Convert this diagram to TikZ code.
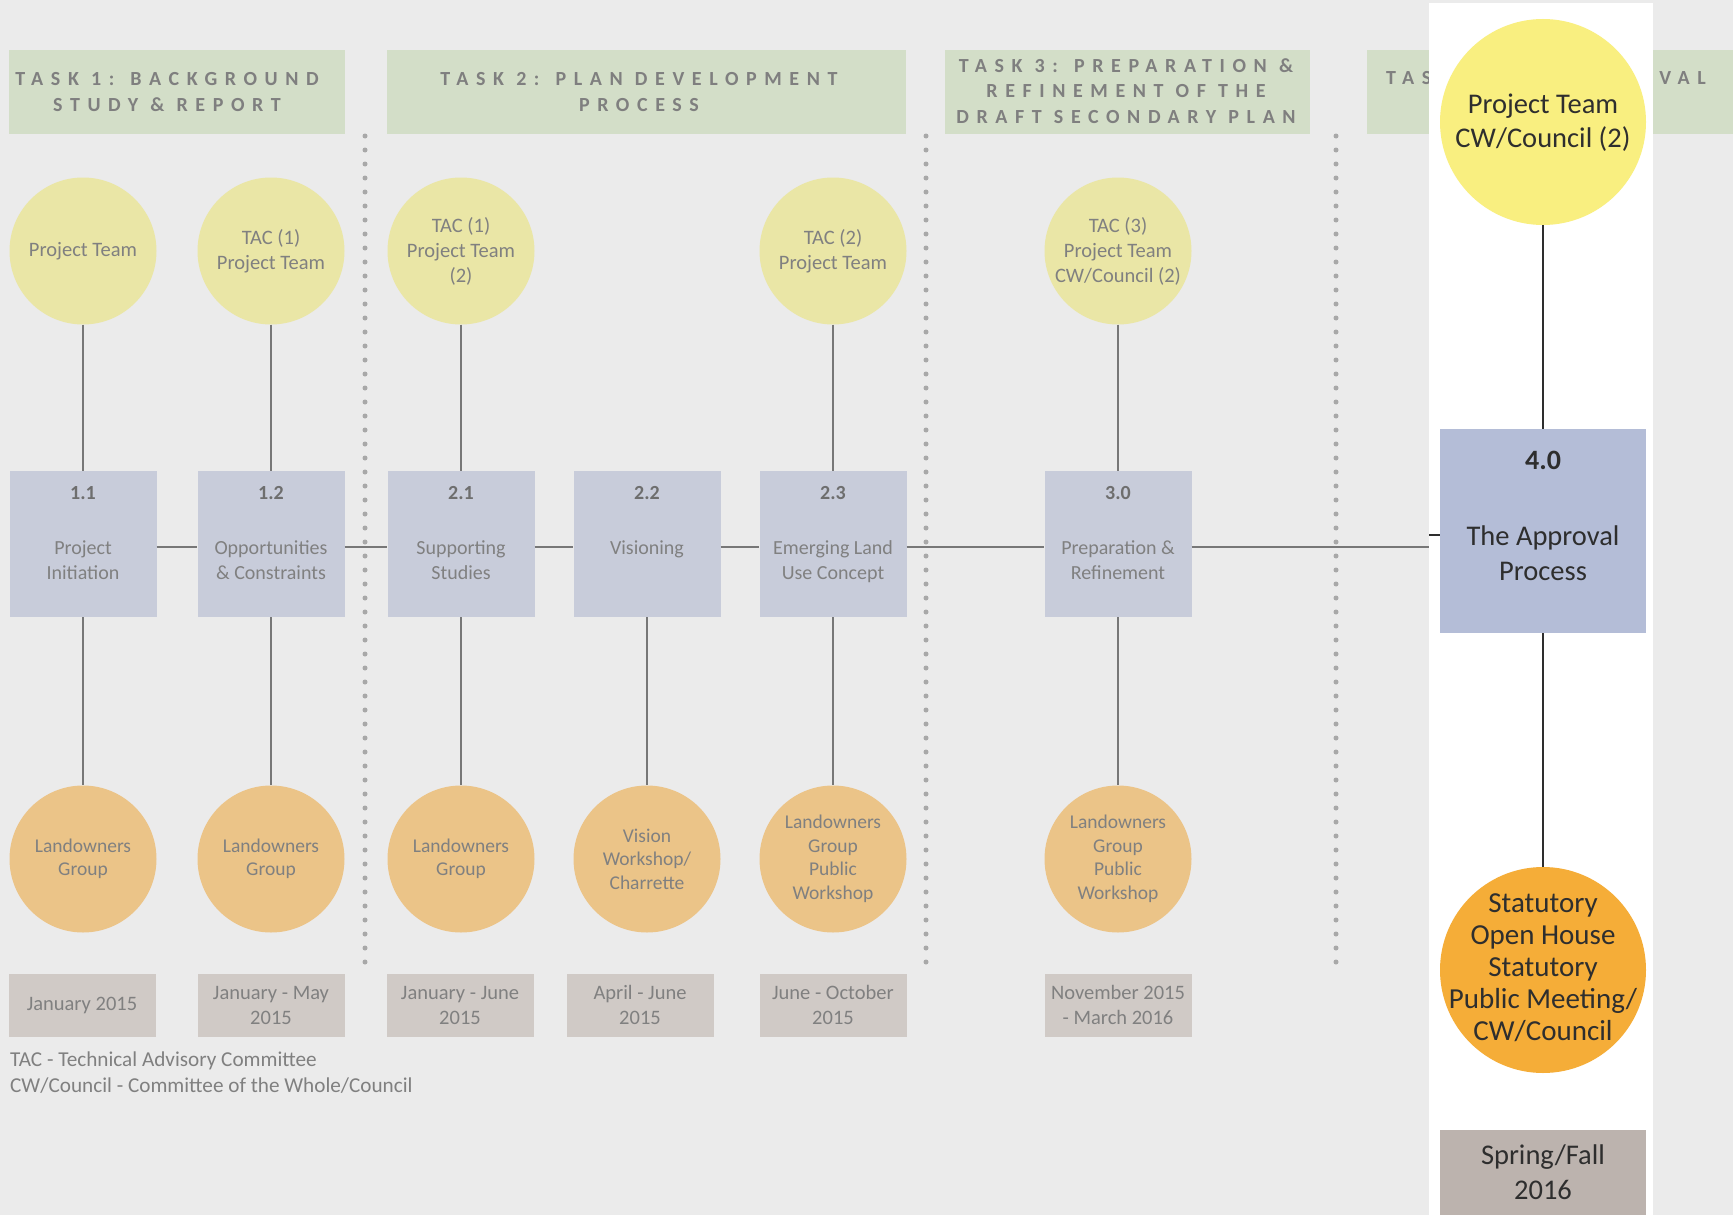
\documentclass[tikz,border=0pt]{standalone}
\usepackage{fontspec}
\setmainfont{Carlito}
\newfontfamily\hdrfont[LetterSpace=38]{Carlito}
\definecolor{bg}{HTML}{EBEBEB}
\definecolor{hdrgreen}{HTML}{D3DEC8}
\definecolor{hdrgray}{HTML}{7F7F7F}
\definecolor{ylw}{HTML}{EAE6A6}
\definecolor{boxblue}{HTML}{C8CCDA}
\definecolor{org}{HTML}{EBC488}
\definecolor{dategray}{HTML}{D0CAC6}
\definecolor{txtgray}{HTML}{808080}
\definecolor{numgray}{HTML}{6E6E6E}
\definecolor{linegray}{HTML}{777777}
\definecolor{dotgray}{HTML}{A8A8A8}
\definecolor{rylw}{HTML}{F9EF80}
\definecolor{rbox}{HTML}{B4BDD7}
\definecolor{rorg}{HTML}{F5AD38}
\definecolor{rdate}{HTML}{BCB3AE}
\definecolor{rtxt}{HTML}{2E2E2E}
\tikzset{
  hdr/.style={fill=hdrgreen, draw=none},
  hdrtxt/.style={font=\hdrfont\bfseries\fontsize{20}{25.5}\selectfont, text=hdrgray, align=center, inner sep=0pt},
  topc/.style={circle, fill=ylw, minimum size=147pt, inner sep=0pt, text=txtgray, font=\fontsize{20.5}{25}\selectfont, align=center},
  stepbox/.style={rectangle, fill=boxblue, minimum width=147pt, minimum height=146pt, inner sep=0pt},
  numtxt/.style={font=\bfseries\fontsize{20}{25}\selectfont, text=numgray, inner sep=0pt},
  desctxt/.style={font=\fontsize{20}{25}\selectfont, text=txtgray, align=center, anchor=north, inner sep=0pt},
  botc/.style={circle, fill=org, minimum size=147pt, inner sep=0pt, text=txtgray, font=\fontsize{19.5}{23.5}\selectfont, align=center},
  datebox/.style={rectangle, fill=dategray, minimum width=147pt, minimum height=63pt, inner sep=0pt, text=txtgray, font=\fontsize{20.5}{25}\selectfont, align=center},
  legendtxt/.style={font=\fontsize{21.2}{25}\selectfont, text=txtgray, anchor=west, inner sep=0pt},
  conn/.style={draw=linegray, line width=1.5pt},
  darkline/.style={draw=rtxt, line width=2pt},
  sepline/.style={draw=dotgray, line width=5pt, line cap=round, dash pattern=on 0pt off 14pt},
  rcirc/.style={circle, minimum size=206pt, inner sep=0pt},
  rtext/.style={text=rtxt, font=\fontsize{28.5}{34}\selectfont, align=center, inner sep=0pt},
}
\begin{document}
\begin{tikzpicture}[x=1pt,y=-1pt]
\useasboundingbox (0,0) rectangle (1733,1215);
\fill[bg] (0,0) rectangle (1733,1215);
% headers
\fill[hdr] (9,50) rectangle (345,134);
\fill[hdr] (387,50) rectangle (906,134);
\fill[hdr] (945,50) rectangle (1310,134);
\fill[hdr] (1367,50) rectangle (1733,134);
\node[hdrtxt] (h1) at (167,92) {TASK 1: BACKGROUND\\STUDY \& REPORT};
\node[hdrtxt] (h2) at (639,92) {TASK 2: PLAN DEVELOPMENT\\PROCESS};
\node[hdrtxt] (h3) at (1126,91) {TASK 3: PREPARATION \&\\REFINEMENT OF THE\\DRAFT SECONDARY PLAN};
\node[hdrtxt, anchor=west] (h4a) at (1386,78) {TAS};
\node[hdrtxt, anchor=east] (h4b) at (1706,78) {VAL};
% white column
\fill[white] (1429,3) rectangle (1653,1215);
% separators
\draw[sepline] (365,136) -- (365,964);
\draw[sepline] (926,136) -- (926,964);
\draw[sepline] (1336,136) -- (1336,964);
% top circles
\node[topc] (t1) at (83,251) {Project Team};
\node[topc] (t2) at (271,251) {TAC (1)\\Project Team};
\node[topc] (t3) at (461,251) {TAC (1)\\Project Team\\(2)};
\node[topc] (t5) at (833,251) {TAC (2)\\Project Team};
\node[topc] (t6) at (1118,251) {TAC (3)\\Project Team\\CW/Council (2)};
% boxes
\node[stepbox] (b1) at (83,544) {};
\node[stepbox] (b2) at (271,544) {};
\node[stepbox] (b3) at (461,544) {};
\node[stepbox] (b4) at (647,544) {};
\node[stepbox] (b5) at (833,544) {};
\node[stepbox] (b6) at (1118,544) {};
\node[numtxt] (n1) at (83,493) {1.1};
\node[numtxt] (n2) at (271,493) {1.2};
\node[numtxt] (n3) at (461,493) {2.1};
\node[numtxt] (n4) at (647,493) {2.2};
\node[numtxt] (n5) at (833,493) {2.3};
\node[numtxt] (n6) at (1118,493) {3.0};
\node[desctxt] (d1) at (83,540.5) {Project\\Initiation};
\node[desctxt] (d2) at (271,540.5) {Opportunities\\\& Constraints};
\node[desctxt] (d3) at (461,540.5) {Supporting\\Studies};
\node[desctxt] (d4) at (647,540.5) {Visioning};
\node[desctxt] (d5) at (833,540.5) {Emerging Land\\Use Concept};
\node[desctxt] (d6) at (1118,540.5) {Preparation \&\\Refinement};
% bottom circles
\node[botc] (o1) at (83,859) {Landowners\\Group};
\node[botc] (o2) at (271,859) {Landowners\\Group};
\node[botc] (o3) at (461,859) {Landowners\\Group};
\node[botc] (o4) at (647,859) {Vision\\Workshop/\\Charrette};
\node[botc] (o5) at (833,859) {Landowners\\Group\\Public\\Workshop};
\node[botc] (o6) at (1118,859) {Landowners\\Group\\Public\\Workshop};
% dates
\node[datebox] (e1) at (82,1005) {January 2015};
\node[datebox] (e2) at (271,1005) {January - May\\2015};
\node[datebox] (e3) at (460,1005) {January - June\\2015};
\node[datebox] (e4) at (640,1005) {April - June\\2015};
\node[datebox] (e5) at (833,1005) {June - October\\2015};
\node[datebox] (e6) at (1118,1005) {November 2015\\- March 2016};
% legend
\node[legendtxt] (l1) at (10,1061) {TAC - Technical Advisory Committee};
\node[legendtxt] (l2) at (10,1086) {CW/Council - Committee of the Whole/Council};
% vertical connectors
\draw[conn] (t1) -- (b1);
\draw[conn] (t2) -- (b2);
\draw[conn] (t3) -- (b3);
\draw[conn] (t5) -- (b5);
\draw[conn] (t6) -- (b6);
\draw[conn] (b1) -- (o1);
\draw[conn] (b2) -- (o2);
\draw[conn] (b3) -- (o3);
\draw[conn] (b4) -- (o4);
\draw[conn] (b5) -- (o5);
\draw[conn] (b6) -- (o6);
% horizontal connectors
\draw[conn] ([yshift=-3pt]b1.east) -- ([yshift=-3pt]b2.west);
\draw[conn] ([yshift=-3pt]b2.east) -- ([yshift=-3pt]b3.west);
\draw[conn] ([yshift=-3pt]b3.east) -- ([yshift=-3pt]b4.west);
\draw[conn] ([yshift=-3pt]b4.east) -- ([yshift=-3pt]b5.west);
\draw[conn] ([yshift=-3pt]b5.east) -- ([yshift=-3pt]b6.west);
\coordinate (wedge) at (1429,547);
\draw[conn] ([yshift=-3pt]b6.east) -- (wedge);
% right column
\node[rcirc, fill=rylw] (rt) at (1543,122) {};
\node[rtext] (rtt) at (1543,122.5) {Project Team\\CW/Council (2)};
\node[rectangle, fill=rbox, minimum width=206pt, minimum height=204pt, inner sep=0pt] (b40) at (1543,531) {};
\node[font=\bfseries\fontsize{28}{34}\selectfont, text=rtxt, inner sep=0pt] (n40) at (1543,460) {4.0};
\node[rtext, font=\fontsize{28.5}{35}\selectfont] (d40) at (1543,553) {The Approval\\Process};
\node[rcirc, fill=rorg] (ro) at (1543,970) {};
\node[rtext, font=\fontsize{29}{32}\selectfont] (rot) at (1543,968) {Statutory\\Open House\\Statutory\\Public Meeting/\\CW/Council};
\node[rectangle, fill=rdate, minimum width=206pt, minimum height=85pt, inner sep=0pt] (rd) at (1543,1172.5) {};
\node[rtext, font=\fontsize{28.5}{35}\selectfont] (rdt) at (1543,1172.5) {Spring/Fall\\2016};
\coordinate (tick) at (1429,535);
\draw[darkline] (tick) -- (tick -| b40.west);
\draw[darkline] (rt) -- (b40);
\draw[darkline] (b40) -- (ro);
\end{tikzpicture}
\end{document}
